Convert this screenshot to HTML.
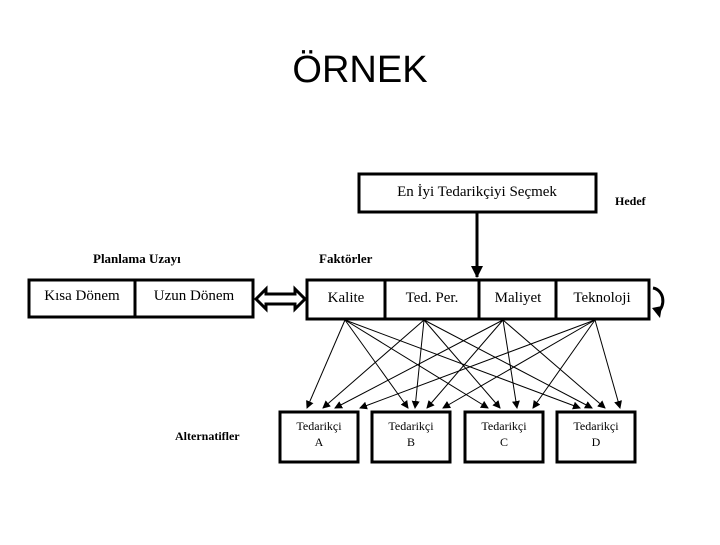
<!DOCTYPE html>
<html><head><meta charset="utf-8"><style>
body{margin:0;background:#fff;width:720px;height:540px;overflow:hidden}
</style></head><body>
<svg width="720" height="540" viewBox="0 0 720 540" xmlns="http://www.w3.org/2000/svg" font-family="Liberation Serif, serif">
<defs><marker id="a" markerWidth="8" markerHeight="8" refX="7" refY="4" orient="auto" markerUnits="userSpaceOnUse"><path d="M0,0 L8,4 L0,8 z" fill="#000"/></marker>
<marker id="b" markerWidth="12" markerHeight="12" refX="11" refY="6" orient="auto" markerUnits="userSpaceOnUse"><path d="M0,0 L12,6 L0,12 z" fill="#000"/></marker></defs>
<text x="360" y="82" font-family="Liberation Sans, sans-serif" font-size="38" text-anchor="middle">ÖRNEK</text>
<rect x="359" y="174" width="237" height="38" fill="none" stroke="#000" stroke-width="3"/>
<text x="477" y="196" font-size="15" text-anchor="middle">En İyi Tedarikçiyi Seçmek</text>
<text x="615" y="205" font-size="12" font-weight="bold">Hedef</text>
<line x1="477" y1="213" x2="477" y2="277" stroke="#000" stroke-width="3" marker-end="url(#b)"/>
<text x="93" y="263" font-size="13" font-weight="bold">Planlama Uzayı</text>
<text x="319" y="263" font-size="13" font-weight="bold">Faktörler</text>
<rect x="29" y="280" width="224" height="37" fill="none" stroke="#000" stroke-width="3"/>
<line x1="135" y1="280" x2="135" y2="317" stroke="#000" stroke-width="3"/>
<text x="82" y="300" font-size="15" text-anchor="middle">Kısa Dönem</text>
<text x="194" y="300" font-size="15" text-anchor="middle">Uzun Dönem</text>
<path d="M256,299 L266,289 L266,294 L295,294 L295,289 L305,299 L295,309 L295,304 L266,304 L266,309 Z" fill="#fff" stroke="#000" stroke-width="3"/>
<rect x="307" y="280" width="342" height="39" fill="none" stroke="#000" stroke-width="3"/>
<line x1="385" y1="280" x2="385" y2="319" stroke="#000" stroke-width="3"/>
<line x1="479" y1="280" x2="479" y2="319" stroke="#000" stroke-width="3"/>
<line x1="556" y1="280" x2="556" y2="319" stroke="#000" stroke-width="3"/>
<text x="346" y="302" font-size="15" text-anchor="middle">Kalite</text>
<text x="432" y="302" font-size="15" text-anchor="middle">Ted. Per.</text>
<text x="518" y="302" font-size="15" text-anchor="middle">Maliyet</text>
<text x="602" y="302" font-size="15" text-anchor="middle">Teknoloji</text>
<path d="M653,288 C664,290 666,305 658,312" fill="none" stroke="#000" stroke-width="3"/>
<path d="M652,308 L660,318 L662,306 Z" fill="#000"/>
<g stroke="#000" stroke-width="1" marker-end="url(#a)">
<line x1="345" y1="320" x2="307" y2="408"/><line x1="345" y1="320" x2="408" y2="408"/><line x1="345" y1="320" x2="488" y2="408"/><line x1="345" y1="320" x2="580" y2="408"/>
<line x1="424" y1="320" x2="323" y2="408"/><line x1="424" y1="320" x2="415" y2="408"/><line x1="424" y1="320" x2="500" y2="408"/><line x1="424" y1="320" x2="592" y2="408"/>
<line x1="503" y1="320" x2="335" y2="408"/><line x1="503" y1="320" x2="427" y2="408"/><line x1="503" y1="320" x2="517" y2="408"/><line x1="503" y1="320" x2="605" y2="408"/>
<line x1="595" y1="320" x2="360" y2="408"/><line x1="595" y1="320" x2="443" y2="408"/><line x1="595" y1="320" x2="533" y2="408"/><line x1="595" y1="320" x2="620" y2="408"/>
</g>
<text x="175" y="440" font-size="12" font-weight="bold">Alternatifler</text>
<g fill="none" stroke="#000" stroke-width="3">
<rect x="280" y="412" width="78" height="50"/><rect x="372" y="412" width="78" height="50"/><rect x="465" y="412" width="78" height="50"/><rect x="557" y="412" width="78" height="50"/>
</g>
<g font-size="12" text-anchor="middle">
<text x="319" y="430">Tedarikçi</text><text x="319" y="446">A</text>
<text x="411" y="430">Tedarikçi</text><text x="411" y="446">B</text>
<text x="504" y="430">Tedarikçi</text><text x="504" y="446">C</text>
<text x="596" y="430">Tedarikçi</text><text x="596" y="446">D</text>
</g>
</svg>
</body></html>
